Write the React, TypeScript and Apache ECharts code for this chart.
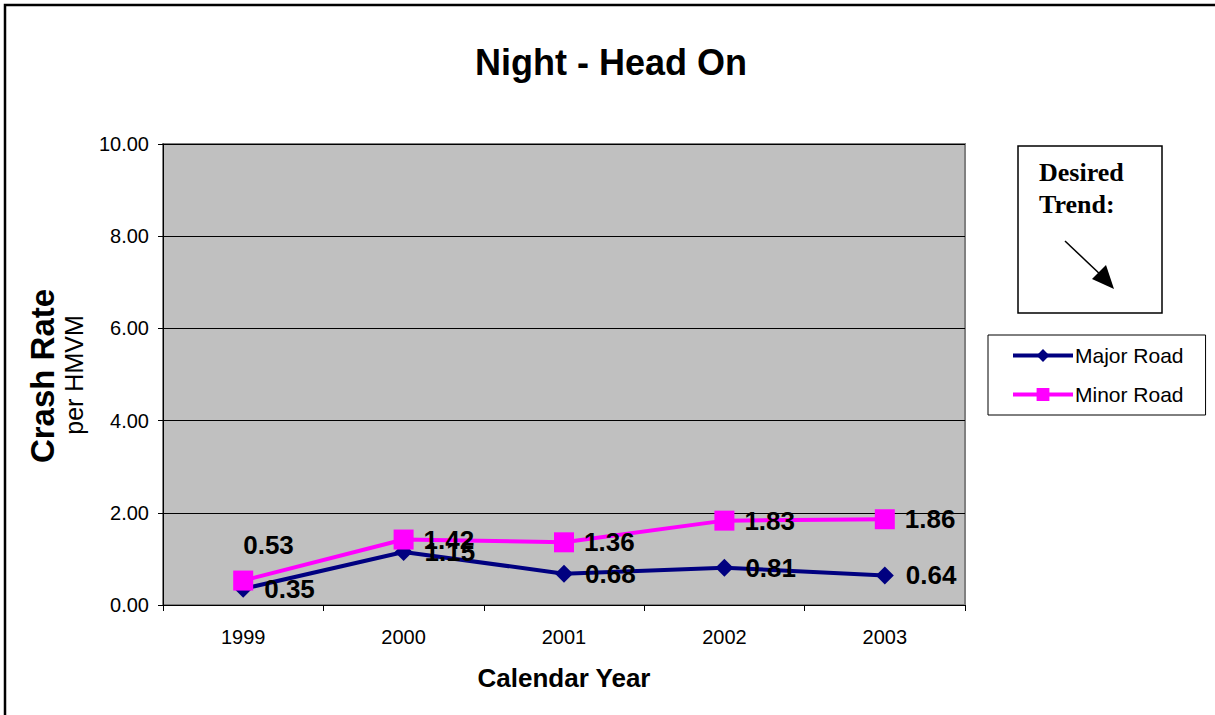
import React, { useEffect, useRef } from "react";
import * as echarts from "echarts";

const years = ["1999", "2000", "2001", "2002", "2003"];
const majorRoad = [0.35, 1.15, 0.68, 0.81, 0.64];
const minorRoad = [0.53, 1.42, 1.36, 1.83, 1.86];
const yMin = 0;
const yMax = 10;
const yStep = 2;

const FONT = "'Liberation Sans', Arial, sans-serif";
const SERIF = "'Liberation Serif', 'Times New Roman', serif";

export default function App() {
  const ref = useRef<HTMLDivElement>(null);
  useEffect(() => {
    document.body.style.margin = "0";
    const chart = echarts.init(ref.current!, null, { renderer: "svg" });
    const labelBase = {
      show: true,
      position: "right" as const,
      color: "#000",
      fontFamily: FONT,
      fontWeight: "bold" as const,
      fontSize: 26,
      formatter: (p: any) => Number(p.value).toFixed(2),
    };
    chart.setOption({
      animation: false,
      backgroundColor: "#fff",
      textStyle: { fontFamily: FONT },
      grid: {
        left: 163,
        top: 144,
        right: 250,
        bottom: 110,
        show: true,
        backgroundColor: "#C0C0C0",
        borderColor: "#808080",
        borderWidth: 2,
      },
      legend: {
        orient: "vertical",
        left: 988,
        top: 335,
        backgroundColor: "#fff",
        borderColor: "#000",
        borderWidth: 1,
        padding: [10, 22, 10, 23],
        itemGap: 18,
        itemWidth: 60,
        itemHeight: 16,
        lineStyle: { width: 4 },
        textStyle: { fontFamily: FONT, fontSize: 21, color: "#000", padding: [0, 0, 0, -3] },
        data: ["Major Road", "Minor Road"],
      },
      xAxis: {
        type: "category",
        data: years,
        boundaryGap: true,
        axisLine: { lineStyle: { color: "#000", width: 1 } },
        axisTick: { show: true, length: 6, lineStyle: { color: "#000" } },
        axisLabel: { color: "#000", fontSize: 20, fontFamily: FONT, margin: 22 },
        splitLine: { show: false },
      },
      yAxis: {
        type: "value",
        min: yMin,
        max: yMax,
        interval: yStep,
        axisLine: { show: true, lineStyle: { color: "#000", width: 1 } },
        axisTick: { show: true, length: 5, lineStyle: { color: "#000" } },
        axisLabel: {
          color: "#000",
          fontSize: 20,
          fontFamily: FONT,
          margin: 14,
          formatter: (v: number) => v.toFixed(2),
        },
        splitLine: { show: true, lineStyle: { color: "#000", width: 1 } },
      },
      series: [
        {
          name: "Major Road",
          type: "line",
          data: majorRoad,
          color: "#000080",
          lineStyle: { color: "#000080", width: 4 },
          itemStyle: { color: "#000080" },
          symbol: "diamond",
          symbolSize: 18,
          label: { ...labelBase, distance: 12 },
          z: 3,
        },
        {
          name: "Minor Road",
          type: "line",
          data: minorRoad.map((v, i) =>
            i === 0
              ? { value: v, label: { offset: [-20, -36] } }
              : { value: v }
          ),
          color: "#FF00FF",
          lineStyle: { color: "#FF00FF", width: 4 },
          itemStyle: { color: "#FF00FF" },
          symbol: "rect",
          symbolSize: 20,
          label: { ...labelBase, distance: 10 },
          z: 4,
        },
      ],
      graphic: [
        {
          type: "rect",
          shape: { x: 5, y: 5, width: 1230, height: 730 },
          style: { fill: "none", stroke: "#000", lineWidth: 2.5 },
          silent: true,
        },
        {
          type: "text",
          x: 611,
          y: 62,
          style: {
            text: "Night - Head On",
            fontFamily: FONT,
            fontWeight: "bold",
            fontSize: 36,
            fill: "#000",
            align: "center",
            verticalAlign: "middle",
          },
        },
        {
          type: "text",
          x: 42,
          y: 376,
          rotation: Math.PI / 2,
          style: {
            text: "Crash Rate",
            fontFamily: FONT,
            fontWeight: "bold",
            fontSize: 33,
            fill: "#000",
            align: "center",
            verticalAlign: "middle",
          },
        },
        {
          type: "text",
          x: 74,
          y: 375,
          rotation: Math.PI / 2,
          style: {
            text: "per HMVM",
            fontFamily: FONT,
            fontSize: 25,
            fill: "#000",
            align: "center",
            verticalAlign: "middle",
          },
        },
        {
          type: "text",
          x: 564,
          y: 678,
          style: {
            text: "Calendar Year",
            fontFamily: FONT,
            fontWeight: "bold",
            fontSize: 26,
            fill: "#000",
            align: "center",
            verticalAlign: "middle",
          },
        },
        {
          type: "rect",
          shape: { x: 1018, y: 146, width: 144, height: 167 },
          style: { fill: "#fff", stroke: "#000", lineWidth: 1.5 },
        },
        {
          type: "text",
          x: 1039,
          y: 172,
          style: {
            text: "Desired",
            fontFamily: SERIF,
            fontWeight: "bold",
            fontSize: 26,
            fill: "#000",
            align: "left",
            verticalAlign: "middle",
          },
        },
        {
          type: "text",
          x: 1039,
          y: 204,
          style: {
            text: "Trend:",
            fontFamily: SERIF,
            fontWeight: "bold",
            fontSize: 26,
            fill: "#000",
            align: "left",
            verticalAlign: "middle",
          },
        },
        {
          type: "line",
          shape: { x1: 1065, y1: 241, x2: 1103, y2: 277 },
          style: { stroke: "#000", lineWidth: 1.5 },
        },
        {
          type: "polygon",
          shape: { points: [[1114, 289], [1092, 279], [1106, 265]] },
          style: { fill: "#000" },
        },
      ],
    });
    return () => chart.dispose();
  }, []);
  return (
    <div
      ref={ref}
      style={{ position: "fixed", left: 0, top: 0, width: 1215, height: 715 }}
    />
  );
}
